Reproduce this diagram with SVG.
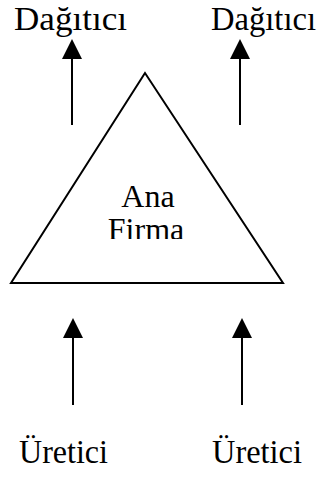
<svg xmlns="http://www.w3.org/2000/svg" width="321" height="477" viewBox="0 0 321 477">
<style>
text{font-family:"Liberation Serif","Times New Roman",serif;fill:#000}
.lbl{font-size:33px}
.conn line{stroke:#000;stroke-width:2}
.head{fill:#000}
</style>
<defs>
<clipPath id="firmaClip"><rect x="0" y="150" width="321" height="89"/></clipPath>
</defs>
<rect width="321" height="477" fill="#fff"/>
<g id="dist-left"><text class="lbl" x="14" y="30" textLength="113" lengthAdjust="spacingAndGlyphs">Dağıtıcı</text></g>
<g id="dist-right"><text class="lbl" x="211" y="30" textLength="105" lengthAdjust="spacingAndGlyphs">Dağıtıcı</text></g>
<g id="ana-firma">
<polygon points="145,73 11,283 283,283" fill="none" stroke="#000" stroke-width="2" stroke-linejoin="miter"/>
<text x="148" y="207" font-size="32" text-anchor="middle">Ana</text>
<text x="146" y="240" font-size="32" text-anchor="middle" clip-path="url(#firmaClip)">Firma</text>
</g>
<g id="prod-left"><text class="lbl" x="19" y="463" textLength="89" lengthAdjust="spacingAndGlyphs">Üretici</text></g>
<g id="prod-right"><text class="lbl" x="212" y="463" textLength="90" lengthAdjust="spacingAndGlyphs">Üretici</text></g>
<g id="connectors" class="conn">
<line x1="72" y1="125" x2="72" y2="55"/>
<polygon class="head" points="72,39 62,59 82,59"/>
<line x1="240" y1="125" x2="240" y2="55"/>
<polygon class="head" points="240,39 230,59 250,59"/>
<line x1="73" y1="405" x2="73" y2="335"/>
<polygon class="head" points="73,318 63,338 83,338"/>
<line x1="242" y1="405" x2="242" y2="335"/>
<polygon class="head" points="242,318 232,338 252,338"/>
</g>
</svg>
